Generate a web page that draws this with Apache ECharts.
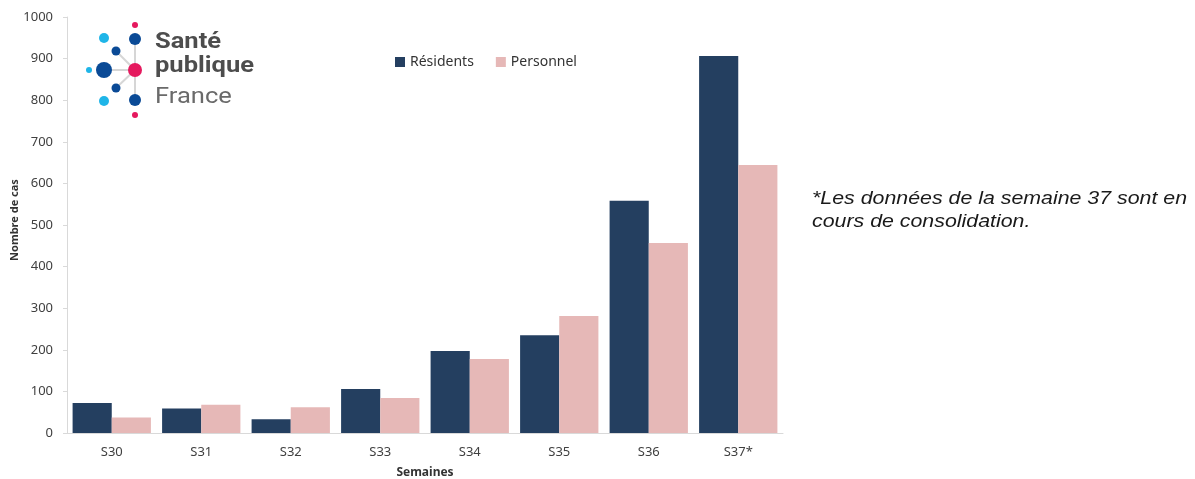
<!DOCTYPE html>
<html>
<head>
<meta charset="utf-8">
<script src="https://cdn.jsdelivr.net/npm/echarts@6/dist/echarts.min.js"></script>
<style>
  html, body { margin: 0; padding: 0; background: #ffffff; }
  #chart { width: 1195px; height: 479px; }
</style>
</head>
<body>
<div id="chart"></div>
<script>
// Weekly case counts in care homes
const weeks = ['S30', 'S31', 'S32', 'S33', 'S34', 'S35', 'S36', 'S37*'];
const residents = [72, 59, 33, 106, 197, 235, 558, 906];
const staff = [37, 68, 62, 84, 178, 281, 457, 644];
const yTicks = { min: 0, max: 1000, step: 100 };

const chart = echarts.init(document.getElementById('chart'), null, { renderer: 'canvas' });

const FONT = '"Noto Sans", "Open Sans", sans-serif';
const DARK = '#243f60';
const PINK = '#e6b8b7';

// Santé publique France logo: dots and connectors
const logoDots = [
  { x: 135, y: 25, r: 3, c: '#e5195e' },
  { x: 135, y: 39, r: 6, c: '#0a4a96' },
  { x: 104, y: 38, r: 5, c: '#1fb5e8' },
  { x: 116, y: 51, r: 4.5, c: '#0a4a96' },
  { x: 104, y: 70, r: 8, c: '#0a4a96' },
  { x: 89, y: 70, r: 3, c: '#1fb5e8' },
  { x: 135, y: 70, r: 7, c: '#e5195e' },
  { x: 116, y: 88, r: 4.5, c: '#0a4a96' },
  { x: 104, y: 101, r: 5, c: '#1fb5e8' },
  { x: 135, y: 100, r: 6, c: '#0a4a96' },
  { x: 135, y: 115, r: 3, c: '#e5195e' }
];
const logoLinks = [
  [135, 39, 135, 100],
  [135, 70, 116, 51],
  [135, 70, 104, 70],
  [135, 70, 116, 88]
];

const graphics = [];
logoLinks.forEach(l => graphics.push({
  type: 'line', z: 10,
  shape: { x1: l[0], y1: l[1], x2: l[2], y2: l[3] },
  style: { stroke: '#d6d6d6', lineWidth: 2 }
}));
logoDots.forEach(d => graphics.push({
  type: 'circle', z: 11,
  shape: { cx: d.x, cy: d.y, r: d.r },
  style: { fill: d.c }
}));
const logoWord = (text, y, weight, fill) => ({
  type: 'text', z: 11, x: 155, y: y, scaleX: 1.16,
  style: { text: text, font: weight + ' 22px Roboto, sans-serif', fill: fill, verticalAlign: 'top' }
});
graphics.push(
  logoWord('Santé', 31, 'bold', '#4d4d4d'),
  logoWord('publique', 55, 'bold', '#4d4d4d'),
  logoWord('France', 86, 'normal', '#6a6a6a'),
  // y axis title
  { type: 'text', x: 15, y: 220, rotation: Math.PI / 2,
    style: { text: 'Nombre de cas', font: 'bold 11px "Noto Sans", sans-serif', fill: '#333333',
      align: 'center', verticalAlign: 'middle' } },
  // footnote on the right
  { type: 'text', x: 812, y: 188, scaleX: 1.22,
    style: { text: '*Les données de la semaine 37 sont en\ncours de consolidation.',
      font: 'italic 17.5px "Liberation Sans", Arial, sans-serif', fill: '#1a1a1a', lineHeight: 23 } }
);

chart.setOption({
  animation: false,
  backgroundColor: '#ffffff',
  textStyle: { fontFamily: FONT },
  grid: { left: 67, right: 412, top: 17, bottom: 46, containLabel: false, outerBoundsMode: 'none' },
  legend: {
    left: 390, top: 50,
    itemWidth: 10, itemHeight: 10, itemGap: 22,
    icon: 'rect',
    textStyle: { fontFamily: FONT, fontSize: 14, color: '#333333' },
    data: ['Résidents', 'Personnel']
  },
  xAxis: {
    type: 'category',
    data: weeks,
    name: 'Semaines',
    nameLocation: 'middle',
    nameGap: 34,
    nameTextStyle: { fontFamily: FONT, fontSize: 12, fontWeight: 'bold', color: '#333333' },
    axisLine: { lineStyle: { color: '#d9d9d9', width: 1 } },
    axisTick: { show: false },
    axisLabel: { fontFamily: FONT, fontSize: 13, color: '#404040', margin: 13 }
  },
  yAxis: {
    type: 'value',
    min: yTicks.min, max: yTicks.max, interval: yTicks.step,
    axisLine: { show: true, lineStyle: { color: '#d9d9d9', width: 1 } },
    axisTick: { show: true, length: 4, lineStyle: { color: '#d9d9d9' } },
    splitLine: { show: false },
    axisLabel: { fontFamily: FONT, fontSize: 13, color: '#404040', margin: 14,
      formatter: v => String(v) }
  },
  series: [
    { name: 'Résidents', type: 'bar', data: residents, barGap: '0%', barCategoryGap: '12.5%',
      itemStyle: { color: DARK } },
    { name: 'Personnel', type: 'bar', data: staff, barGap: '0%', barCategoryGap: '12.5%',
      itemStyle: { color: PINK } }
  ],
  graphic: graphics
});
</script>
</body>
</html>
